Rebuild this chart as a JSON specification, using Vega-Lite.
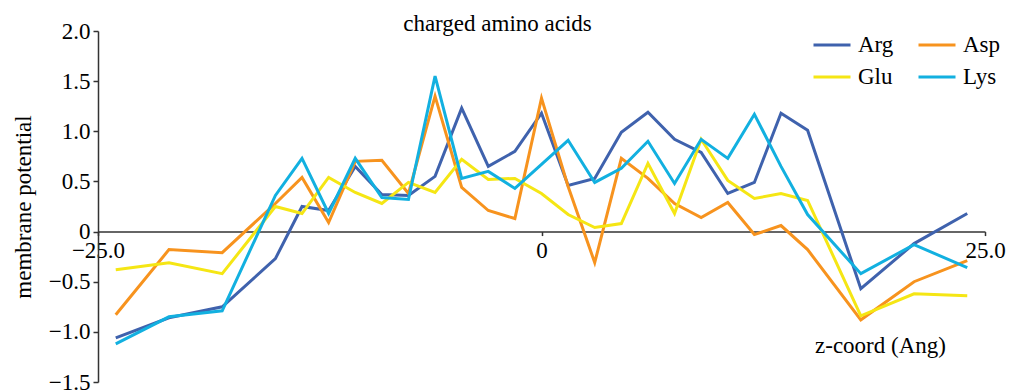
{
  "$schema": "https://vega.github.io/schema/vega-lite/v6.json",
  "width": 887,
  "height": 351,
  "autosize": "none",
  "padding": {"left": 98, "top": 31, "right": 25, "bottom": 8},
  "background": "white",
  "config": {"view": {"stroke": null}, "font": "Liberation Serif"},
  "title": {"text": "charged amino acids", "font": "Liberation Serif", "fontSize": 23, "fontWeight": "normal", "color": "#000000", "anchor": "middle", "dx": -44, "dy": 34, "offset": 0, "baseline": "alphabetic"},
  "data": {"values": [
    {"z": -24, "Arg": -1.06, "Asp": -0.83, "Glu": -0.38, "Lys": -1.12},
    {"z": -21, "Arg": -0.86, "Asp": -0.18, "Glu": -0.31, "Lys": -0.85},
    {"z": -18, "Arg": -0.75, "Asp": -0.21, "Glu": -0.42, "Lys": -0.79},
    {"z": -15, "Arg": -0.27, "Asp": 0.28, "Glu": 0.25, "Lys": 0.36},
    {"z": -13.5, "Arg": 0.25, "Asp": 0.54, "Glu": 0.18, "Lys": 0.73},
    {"z": -12, "Arg": 0.21, "Asp": 0.09, "Glu": 0.54, "Lys": 0.18},
    {"z": -10.5, "Arg": 0.65, "Asp": 0.70, "Glu": 0.39, "Lys": 0.73},
    {"z": -9, "Arg": 0.37, "Asp": 0.71, "Glu": 0.28, "Lys": 0.34},
    {"z": -7.5, "Arg": 0.36, "Asp": 0.38, "Glu": 0.49, "Lys": 0.32},
    {"z": -6, "Arg": 0.55, "Asp": 1.35, "Glu": 0.39, "Lys": 1.55},
    {"z": -4.5, "Arg": 1.23, "Asp": 0.44, "Glu": 0.72, "Lys": 0.53},
    {"z": -3, "Arg": 0.65, "Asp": 0.21, "Glu": 0.52, "Lys": 0.60},
    {"z": -1.5, "Arg": 0.80, "Asp": 0.13, "Glu": 0.53, "Lys": 0.43},
    {"z": 0, "Arg": 1.18, "Asp": 1.33, "Glu": 0.38, "Lys": 0.67},
    {"z": 1.5, "Arg": 0.46, "Asp": 0.45, "Glu": 0.17, "Lys": 0.91},
    {"z": 3, "Arg": 0.53, "Asp": -0.31, "Glu": 0.04, "Lys": 0.49},
    {"z": 4.5, "Arg": 0.99, "Asp": 0.73, "Glu": 0.08, "Lys": 0.63},
    {"z": 6, "Arg": 1.19, "Asp": 0.53, "Glu": 0.68, "Lys": 0.90},
    {"z": 7.5, "Arg": 0.92, "Asp": 0.28, "Glu": 0.18, "Lys": 0.48},
    {"z": 9, "Arg": 0.79, "Asp": 0.14, "Glu": 0.92, "Lys": 0.92},
    {"z": 10.5, "Arg": 0.38, "Asp": 0.29, "Glu": 0.51, "Lys": 0.73},
    {"z": 12, "Arg": 0.49, "Asp": -0.03, "Glu": 0.33, "Lys": 1.17},
    {"z": 13.5, "Arg": 1.18, "Asp": 0.06, "Glu": 0.38, "Lys": 0.65},
    {"z": 15, "Arg": 1.01, "Asp": -0.18, "Glu": 0.31, "Lys": 0.17},
    {"z": 18, "Arg": -0.57, "Asp": -0.88, "Glu": -0.84, "Lys": -0.42},
    {"z": 21, "Arg": -0.12, "Asp": -0.50, "Glu": -0.62, "Lys": -0.13},
    {"z": 24, "Arg": 0.18, "Asp": -0.29, "Glu": -0.64, "Lys": -0.36}
  ]},
  "transform": [{"fold": ["Arg", "Asp", "Glu", "Lys"], "as": ["aa", "v"]}],
  "mark": {"type": "line", "strokeWidth": 3, "strokeJoin": "miter"},
  "encoding": {
    "x": {
      "field": "z", "type": "quantitative",
      "scale": {"domain": [-25, 25], "nice": false, "zero": false},
      "axis": {
        "orient": "bottom", "offset": -150.43,
        "values": [-25, 0, 25],
        "labelExpr": "datum.value == 0 ? '0' : format(datum.value, '.1f')",
        "grid": false,
        "domainColor": "#333333", "domainWidth": 1.5,
        "tickColor": "#333333", "tickSize": 4, "tickWidth": 1.5,
        "labelFont": "Liberation Serif", "labelFontSize": 23, "labelColor": "#000000",
        "labelPadding": 4, "labelFlush": false, "labelOverlap": false,
        "title": "z-coord (Ang)",
        "titleFont": "Liberation Serif", "titleFontSize": 23, "titleFontWeight": "normal", "titleColor": "#000000",
        "titleX": 782, "titleY": 121, "titleAlign": "center", "titleBaseline": "alphabetic", "titleAnchor": null
      }
    },
    "y": {
      "field": "v", "type": "quantitative",
      "scale": {"domain": [-1.5, 2], "nice": false, "zero": false},
      "axis": {
        "values": [-1.5, -1, -0.5, 0, 0.5, 1, 1.5, 2],
        "labelExpr": "datum.value == 0 ? '0' : format(datum.value, '.1f')",
        "grid": false,
        "domainColor": "#333333", "domainWidth": 1.5,
        "tickColor": "#333333", "tickSize": 5, "tickWidth": 1.5,
        "labelFont": "Liberation Serif", "labelFontSize": 23, "labelColor": "#000000",
        "labelPadding": 3, "labelFlush": false, "labelOverlap": false,
        "title": "membrane potential",
        "titleFont": "Liberation Serif", "titleFontSize": 23, "titleFontWeight": "normal", "titleColor": "#000000",
        "titleX": -63, "titleY": 175.5, "titleAlign": "center", "titleBaseline": "bottom"
      }
    },
    "color": {
      "field": "aa", "type": "nominal",
      "scale": {"domain": ["Arg", "Asp", "Glu", "Lys"], "range": ["#3f62ad", "#f7931e", "#f5e614", "#12b0e0"]},
      "legend": {
        "orient": "none", "direction": "horizontal", "legendX": 714, "legendY": -6, "columns": 2, "title": null,
        "symbolType": "stroke", "symbolSize": 1369, "symbolStrokeWidth": 3,
        "labelFont": "Liberation Serif", "labelFontSize": 23, "labelColor": "#000000",
        "labelOffset": 6, "columnPadding": 18, "rowPadding": -7
      }
    }
  }
}
